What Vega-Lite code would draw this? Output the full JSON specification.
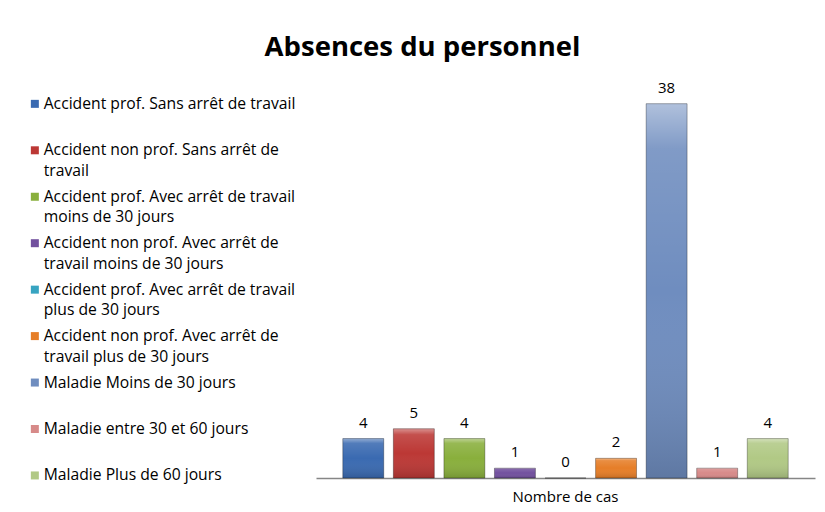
{
  "$schema": "https://vega.github.io/schema/vega-lite/v6.json",
  "width": 499,
  "height": 394,
  "autosize": {"type": "none"},
  "padding": {"left": 316, "top": 84, "right": 10, "bottom": 34},
  "background": "white",
  "title": {
    "text": "Absences du personnel",
    "font": "Open Sans",
    "fontSize": 27.5,
    "fontWeight": "bold",
    "color": "#000000",
    "anchor": "middle",
    "frame": "group",
    "dx": -143,
    "offset": 19
  },
  "config": {
    "view": {"stroke": null},
    "style": {"guide-label": {"lineHeight": 20.5}}
  },
  "data": {
    "values": [
      {"cat": "Nombre de cas", "name": "Accident prof. Sans arrêt de travail", "n": 4},
      {"cat": "Nombre de cas", "name": "Accident non prof. Sans arrêt de\ntravail", "n": 5},
      {"cat": "Nombre de cas", "name": "Accident prof. Avec arrêt de travail\nmoins de 30 jours", "n": 4},
      {"cat": "Nombre de cas", "name": "Accident non prof. Avec arrêt de\ntravail moins de 30 jours", "n": 1},
      {"cat": "Nombre de cas", "name": "Accident prof. Avec arrêt de travail\nplus de 30 jours", "n": 0},
      {"cat": "Nombre de cas", "name": "Accident non prof. Avec arrêt de\ntravail plus de 30 jours", "n": 2},
      {"cat": "Nombre de cas", "name": "Maladie Moins de 30 jours", "n": 38},
      {"cat": "Nombre de cas", "name": "Maladie entre 30 et 60 jours", "n": 1},
      {"cat": "Nombre de cas", "name": "Maladie Plus de 60 jours", "n": 4}
    ]
  },
  "encoding": {
    "x": {
      "field": "cat",
      "type": "nominal",
      "scale": {"paddingInner": 0, "paddingOuter": 0},
      "axis": {
        "title": null,
        "labelAngle": 0,
        "labelFont": "Open Sans",
        "labelFontSize": 15,
        "labelColor": "#000000",
        "labelPadding": 11,
        "ticks": false,
        "domainColor": "#868686",
        "domainWidth": 1.5
      }
    },
    "xOffset": {
      "field": "name",
      "type": "nominal",
      "sort": null,
      "scale": {"paddingInner": 0.19, "paddingOuter": 0.53}
    },
    "y": {
      "field": "n",
      "type": "quantitative",
      "scale": {"domain": [0, 40], "nice": false},
      "axis": null
    }
  },
  "layer": [
    {
      "mark": {"type": "bar"},
      "encoding": {
        "color": {
          "field": "name",
          "type": "nominal",
          "sort": null,
          "scale": {
            "range": ["#3A6AB1", "#BC3835", "#89AF3C", "#72509E", "#37A4C1", "#E67E28", "#6F8DBF", "#D78A89", "#B1C985"]
          },
          "legend": {
            "title": null,
            "orient": "none",
            "legendX": -289,
            "legendY": 12,
            "direction": "vertical",
            "gridAlign": "all",
            "rowPadding": 8.45,
            "symbolType": "square",
            "symbolSize": 64,
            "symbolStrokeWidth": 0,
            "symbolOpacity": 1,
            "labelFont": "Open Sans",
            "labelFontSize": 15.7,
            "labelColor": "#000000",
            "labelLimit": 340,
            "labelOffset": 1,
            "labelExpr": "split(datum.label, '\\n')"
          }
        }
      }
    },
    {
      "mark": {
        "type": "bar",
        "stroke": "rgba(0,0,0,0.3)",
        "strokeWidth": 1,
        "fill": {
          "gradient": "linear",
          "x1": 0, "y1": 0, "x2": 0, "y2": 1,
          "stops": [
            {"offset": 0, "color": "rgba(255,255,255,0.45)"},
            {"offset": 0.12, "color": "rgba(255,255,255,0.12)"},
            {"offset": 0.5, "color": "rgba(255,255,255,0)"},
            {"offset": 1, "color": "rgba(0,0,0,0.15)"}
          ]
        }
      }
    },
    {
      "mark": {
        "type": "text",
        "baseline": "middle",
        "dy": -16,
        "font": "Open Sans",
        "fontSize": 15,
        "color": "#000000"
      },
      "encoding": {"text": {"field": "n", "type": "quantitative"}}
    }
  ]
}
